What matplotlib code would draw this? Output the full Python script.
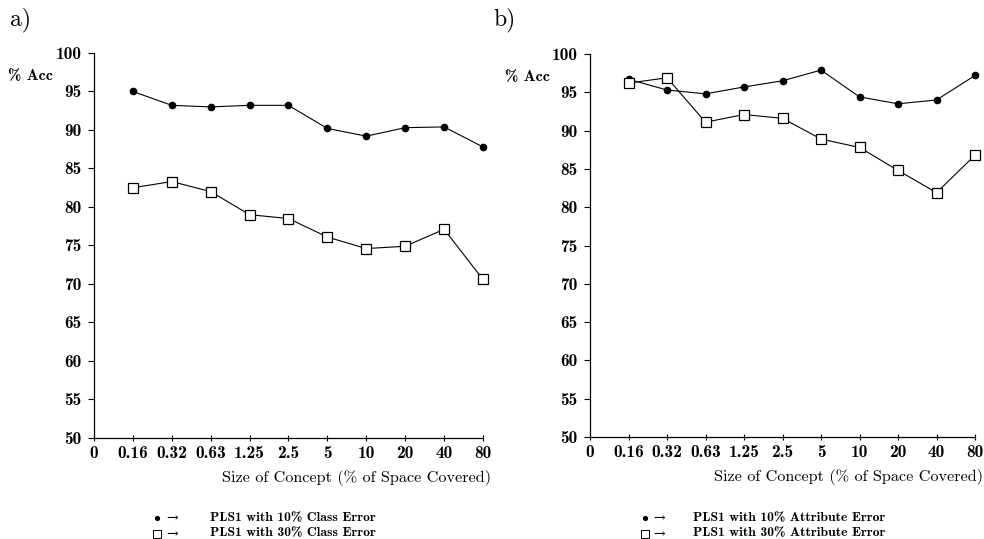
import matplotlib.pyplot as plt
from matplotlib.lines import Line2D

plt.rcParams['font.family'] = ['cmr10', 'DejaVu Serif']
plt.rcParams['axes.unicode_minus'] = False

# concept sizes (% of space covered), categorical x axis
sizes = ['0', '0.16', '0.32', '0.63', '1.25', '2.5', '5', '10', '20', '40', '80']

# panel a) class error
class10 = [95.0, 93.2, 93.0, 93.2, 93.2, 90.2, 89.2, 90.3, 90.4, 87.8]
class30 = [82.5, 83.3, 82.0, 79.0, 78.5, 76.1, 74.6, 74.9, 77.1, 70.6]

# panel b) attribute error
attr10 = [96.7, 95.3, 94.8, 95.7, 96.5, 97.9, 94.4, 93.5, 94.0, 97.2]
attr30 = [96.2, 96.9, 91.1, 92.1, 91.6, 88.9, 87.8, 84.8, 81.9, 86.8]

yticks = [50, 55, 60, 65, 70, 75, 80, 85, 90, 95, 100]

bold = ['cmb10', 'DejaVu Serif']

fig = plt.figure(figsize=(9.84, 5.39), dpi=100)
ax_a = fig.add_axes([0.0955, 0.1874, 0.3953, 0.7143])
ax_b = fig.add_axes([0.5996, 0.1892, 0.3913, 0.7106])

panels = [
    (ax_a, class10, class30, 'a)', 'Class Error', 0.010, 0.160, 0.213),
    (ax_b, attr10, attr30, 'b)', 'Attribute Error', 0.501, 0.655, 0.704),
]

for ax, s10, s30, tag, kind, tagx, mx, tx in panels:
    xs = list(range(1, len(sizes)))
    ax.plot(xs, s10, color='black', lw=0.8, marker='o', ms=4.5,
            mfc='black', mec='black', clip_on=False)
    ax.plot(xs, s30, color='black', lw=0.8, marker='s', ms=7.8,
            mfc='white', mec='black', mew=0.9, clip_on=False)

    ax.set_xlim(0, 10)
    ax.set_ylim(50, 100)
    ax.set_xticks(range(len(sizes)))
    ax.set_xticklabels(sizes, family=bold)
    ax.set_yticks(yticks)
    ax.set_yticklabels([str(v) for v in yticks], family=bold)
    for sp in ['top', 'right']:
        ax.spines[sp].set_visible(False)
    ax.spines['left'].set_linewidth(0.9)
    ax.spines['bottom'].set_linewidth(0.9)
    ax.tick_params(axis='y', direction='out', length=4, width=0.8,
                   labelsize=12.5, pad=5)
    ax.tick_params(axis='x', direction='inout', length=5, width=0.8,
                   labelsize=12.5, pad=3)
    ax.set_xlabel('Size of Concept (% of Space Covered)', fontsize=11.7,
                  loc='right', labelpad=7)
    ax.xaxis.label.set_x(1.02)

    # "% Acc" label to the left of the top of the axis
    ax.text(-0.105, 0.94, '% Acc', transform=ax.transAxes, fontsize=11.5,
            ha='right', va='center', family=bold)

    fig.text(tagx, 0.963, tag, fontsize=17, ha='left', va='center')

    # legend below the axes
    for yy, mk, lab in [(0.039, 'o', '10%'), (0.010, 's', '30%')]:
        fig.add_artist(Line2D([mx], [yy], transform=fig.transFigure,
                              marker=mk, ms=3.0 if mk == 'o' else 6,
                              mfc='black' if mk == 'o' else 'white',
                              mec='black', mew=0.7, ls='none'))
        fig.text(mx + 0.009, yy, '\u2192', fontsize=10, ha='left',
                 va='center', family=['DejaVu Serif'])
        fig.text(tx, yy, 'PLS1 with ' + lab + ' ' + kind, fontsize=9.8,
                 ha='left', va='center', family=bold)

fig.savefig('out.png', dpi=100)
